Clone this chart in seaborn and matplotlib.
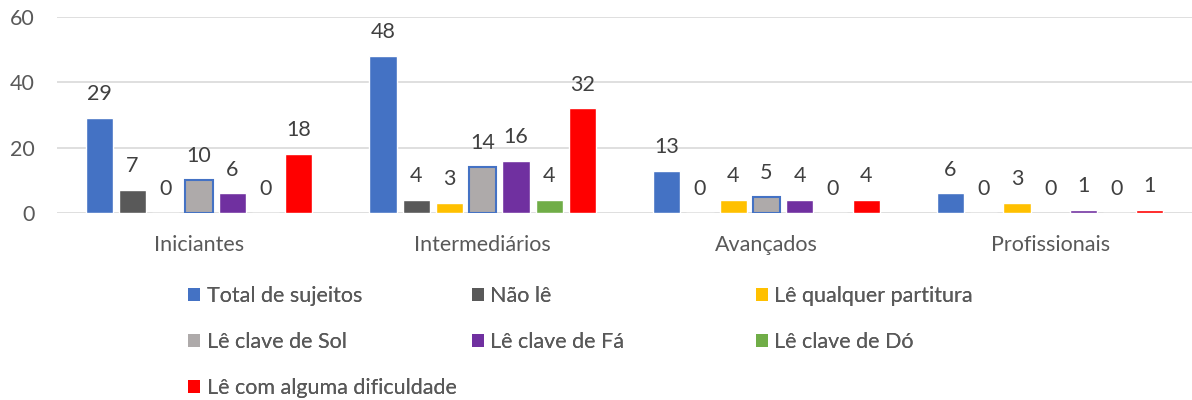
import numpy as np
import pandas as pd
import matplotlib
matplotlib.use("Agg")
import matplotlib.pyplot as plt
import seaborn as sns
from matplotlib.patches import Patch

# data
categories = ["Iniciantes", "Intermediários", "Avançados", "Profissionais"]
series = ["Total de sujeitos", "Não lê", "Lê qualquer partitura",
          "Lê clave de Sol", "Lê clave de Fá", "Lê clave de Dó",
          "Lê com alguma dificuldade"]
total_sujeitos = [29, 48, 13, 6]
nao_le = [7, 4, 0, 0]
le_qualquer = [0, 3, 4, 3]
clave_sol = [10, 14, 5, 0]
clave_fa = [6, 16, 4, 1]
clave_do = [0, 4, 0, 0]
dificuldade = [18, 32, 4, 1]
colors = ["#4472C4", "#595959", "#FFC000", "#AEAAAA", "#7030A0", "#70AD47", "#FF0000"]

values = [total_sujeitos, nao_le, le_qualquer, clave_sol, clave_fa, clave_do, dificuldade]
rows = []
for name, vals in zip(series, values):
    for cat, v in zip(categories, vals):
        rows.append({"grupo": cat, "serie": name, "valor": v})
df = pd.DataFrame(rows)

sns.set_style("white")
plt.rcParams['font.family'] = ['Lato', 'DejaVu Sans']
FS = 15.5

fig = plt.figure(figsize=(11.92, 4.0), dpi=100)
ax = fig.add_axes([0.048, 0.4675, 0.952, 0.49])

sns.barplot(data=df, x="grupo", y="valor", hue="serie", order=categories,
            hue_order=series, palette=colors, width=0.82, gap=0.18,
            saturation=1, legend=False, ax=ax)

# clave de Sol bars have a blue outline (not on empty bars)
for p in ax.containers[3]:
    if p.get_height() > 0:
        p.set_edgecolor("#4472C4")
        p.set_linewidth(1.5)
    else:
        p.set_linewidth(0)

for cont in ax.containers:
    ax.bar_label(cont, fmt="%d", padding=10, fontsize=FS, color="#404040")

ax.set_ylim(0, 60)
ax.set_yticks([0, 20, 40, 60])
ax.set_xlim(-0.5, 3.5)
ax.yaxis.grid(True, color="#D9D9D9", linewidth=1.2)
ax.set_axisbelow(True)
for s in ax.spines.values():
    s.set_visible(False)
ax.tick_params(axis="both", length=0, labelsize=FS, labelcolor="#595959")
ax.tick_params(axis="x", pad=16)
ax.tick_params(axis="y", pad=16)
ax.set_xlabel("")
ax.set_ylabel("")

# legend, filled row by row like the original, one legend per column
col_idx = [[0, 3, 6], [1, 4], [2, 5]]
col_x = [0.158, 0.396, 0.634]
for idx, x in zip(col_idx, col_x):
    handles = [Patch(facecolor=colors[i], edgecolor="none") for i in idx]
    labels = [series[i] for i in idx]
    leg = fig.legend(handles, labels, loc="upper left", bbox_to_anchor=(x, 0.285),
                     frameon=False, fontsize=FS, handlelength=0.55, handleheight=0.55,
                     handletextpad=0.3, labelspacing=1.2, borderaxespad=0,
                     borderpad=0)
    for t in leg.get_texts():
        t.set_color("#595959")
    fig.add_artist(leg)

fig.savefig("out.png", dpi=100)
